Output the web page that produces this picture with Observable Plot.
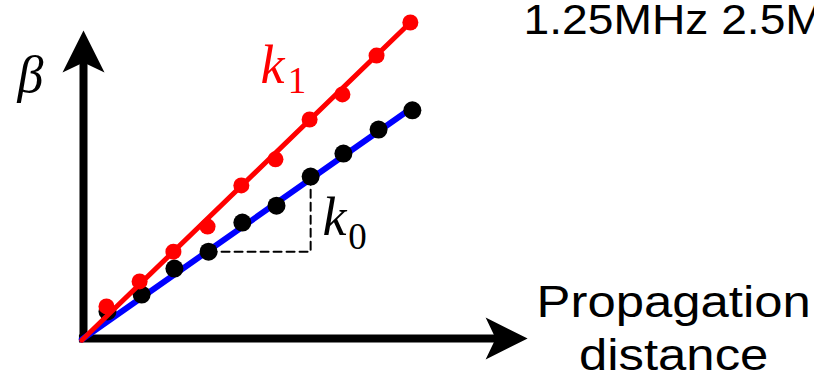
<!DOCTYPE html>
<html>
<head>
<meta charset="utf-8">
<script src="https://cdn.jsdelivr.net/npm/d3@7"></script>
<script src="https://cdn.jsdelivr.net/npm/@observablehq/plot@0.6"></script>
<style>
  html, body { margin: 0; padding: 0; background: #fff; overflow: hidden; }
  #chart svg { display: block; }
</style>
</head>
<body>
<div id="chart"></div>
<script>
// Propagation distance (arbitrary units) of the measured points
const distanceK1 = [0.68, 1.66, 2.66, 3.67, 4.67, 5.68, 6.69, 7.66, 8.67, 9.67];
const betaK1     = [0.95, 1.69, 2.57, 3.31, 4.53, 5.30, 6.48, 7.22, 8.37, 9.35];
const distanceK0 = [0.71, 1.72, 2.69, 3.70, 4.70, 5.71, 6.72, 7.69, 8.73, 9.73];
const betaK0     = [0.80, 1.30, 2.07, 2.57, 3.43, 3.93, 4.79, 5.47, 6.18, 6.75];
// linear fits (start and end)
const fitDistance = [-0.05, 9.67];
const fitK1 = [-0.05, 9.35];
const fitK0 = [-0.03, 6.79];
// labels
const freqLabel = "1.25MHz 2.5MHz";
const xLabel = ["Propagation", "distance"];
const yLabel = "β";

const k1Pts = distanceK1.map((d, i) => ({x: d, y: betaK1[i]}));
const k0Pts = distanceK0.map((d, i) => ({x: d, y: betaK0[i]}));
const k1Fit = fitDistance.map((d, i) => ({x: d, y: fitK1[i]}));
const k0Fit = fitDistance.map((d, i) => ({x: d, y: fitK0[i]}));
// slope triangle built from two of the k0 points
const tri = [
  {x: distanceK0[3], y: betaK0[3]},
  {x: distanceK0[6], y: betaK0[3]},
  {x: distanceK0[6], y: betaK0[6]}
];

const arrowUp = {draw(ctx) { ctx.moveTo(0, 0); ctx.lineTo(21, 42); ctx.lineTo(0, 32); ctx.lineTo(-21, 42); ctx.closePath(); }};
const arrowRight = {draw(ctx) { ctx.moveTo(0, 0); ctx.lineTo(-42, 21); ctx.lineTo(-32, 0); ctx.lineTo(-42, -21); ctx.closePath(); }};

const U = 33.8; // px per unit
const W = 814, H = 382, ox = 83, oy = 338;

const serif = "'Liberation Serif', 'DejaVu Serif', serif";
const sans = "'Liberation Sans', Arial, sans-serif";

const chart = Plot.plot({
  width: W,
  height: H,
  margin: 0,
  x: {domain: [-ox / U, (W - ox) / U], axis: null},
  y: {domain: [-(H - oy) / U, oy / U], axis: null},
  style: {background: "#fff"},
  marks: [
    // axes with arrowheads
    Plot.ruleX([0], {y1: -0.12, y2: 8.22, stroke: "#000", strokeWidth: 8}),
    Plot.ruleY([0], {x1: -0.12, x2: 12.3, stroke: "#000", strokeWidth: 8}),
    Plot.dot([{x: 0, y: 9.11}], {x: "x", y: "y", r: 1, symbol: arrowUp, fill: "#000", stroke: "none"}),
    Plot.dot([{x: 13.14, y: 0}], {x: "x", y: "y", r: 1, symbol: arrowRight, fill: "#000", stroke: "none"}),
    // slope triangle
    Plot.line(tri, {x: "x", y: "y", stroke: "#000", strokeWidth: 2, strokeDasharray: "8,5"}),
    // k0 series
    Plot.line(k0Fit, {x: "x", y: "y", stroke: "#0000ff", strokeWidth: 6}),
    Plot.dot(k0Pts, {x: "x", y: "y", r: 9, fill: "#000", stroke: "none"}),
    // k1 series
    Plot.line(k1Fit, {x: "x", y: "y", stroke: "#ff0000", strokeWidth: 5}),
    Plot.dot(k1Pts, {x: "x", y: "y", r: 8, fill: "#ff0000", stroke: "none"}),
    // labels
    Plot.text([yLabel], {x: -1.57, y: 7.78, text: d => d, fontSize: 52, fontStyle: "italic", fontFamily: serif, fill: "#000", textAnchor: "middle"}),
    Plot.text(["k"], {x: 5.24, y: 8.06, text: d => d, fontSize: 54, fontStyle: "italic", fontFamily: serif, fill: "#ff0000", textAnchor: "start"}),
    Plot.text(["1"], {x: 6.32, y: 7.60, text: d => d, fontSize: 37, fontFamily: serif, fill: "#ff0000", textAnchor: "middle"}),
    Plot.text(["k"], {x: 7.07, y: 3.56, text: d => d, fontSize: 54, fontStyle: "italic", fontFamily: serif, fill: "#000", textAnchor: "start"}),
    Plot.text(["0"], {x: 8.11, y: 3.01, text: d => d, fontSize: 37, fontFamily: serif, fill: "#000", textAnchor: "middle"}),
    Plot.text([freqLabel], {x: 13.02, y: 9.42, text: d => d, fontSize: 42, fontFamily: sans, fill: "#000", textAnchor: "start"}),
    Plot.text([xLabel[0]], {x: 17.46, y: 1.05, text: d => d, fontSize: 45, fontFamily: sans, fill: "#000", textAnchor: "middle"}),
    Plot.text([xLabel[1]], {x: 17.46, y: -0.52, text: d => d, fontSize: 45, fontFamily: sans, fill: "#000", textAnchor: "middle"})
  ]
});
document.getElementById("chart").appendChild(chart);

// the sans labels in the reference are horizontally widened
d3.select(chart).selectAll("text").each(function() {
  const ff = window.getComputedStyle(this).fontFamily || "";
  if (!/Liberation Sans/.test(ff)) return;
  const s = this.textContent === freqLabel ? 1.1 : 1.13;
  const t = this.getAttribute("transform");
  if (t) {
    this.setAttribute("transform", t + ` scale(${s},1)`);
  } else {
    const x = +this.getAttribute("x") || 0, y = +this.getAttribute("y") || 0;
    this.removeAttribute("x"); this.removeAttribute("y");
    this.setAttribute("transform", `translate(${x},${y}) scale(${s},1)`);
  }
});
</script>
</body>
</html>
